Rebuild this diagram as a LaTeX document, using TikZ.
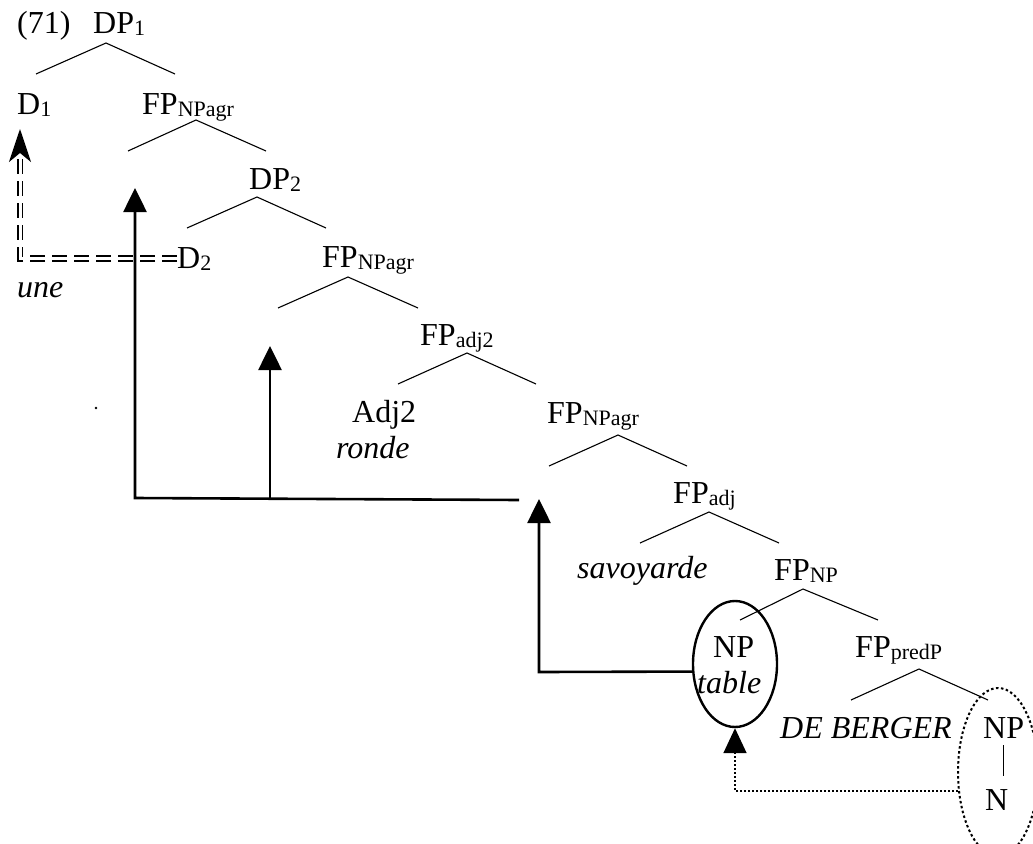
\documentclass[tikz,border=0pt]{standalone}
\usepackage{fontspec}
\setmainfont{Liberation Serif}
\usetikzlibrary{arrows.meta,shapes.geometric}
\newcommand\sbs[1]{\raisebox{-2pt}{\fontsize{22}{22}\selectfont #1}}

\begin{document}
\begin{tikzpicture}[
  x=1pt, y=-1pt,
  lab/.style={
    anchor=base west,
    inner sep=0pt,
    font=\fontsize{32}{38}\selectfont
  },
  ital/.style={lab, font=\fontsize{32}{38}\selectfont\itshape},
  branch/.style={line width=1.1pt},
  mv/.style={line width=2.6pt, -{Triangle[length=24pt,width=23pt]}},
  dbl/.style={
    double, double distance=3pt, line width=1.7pt,
    dash pattern=on 15pt off 7pt,
    -{Stealth[length=33pt,width=22pt,inset=9pt]}
  },
  dots/.style={line width=1.8pt, dash pattern=on 2pt off 2pt,
    -{Triangle[length=25pt,width=23pt]}},
  ring/.style={draw, ellipse, line width=2.4pt, inner sep=0pt},
  dotring/.style={draw, ellipse, line width=2pt, inner sep=0pt,
    dash pattern=on 2.5pt off 2.5pt}
]
\useasboundingbox (0,0) rectangle (1033,843);

% Labels
\node[lab] (ex) at (17,34) {(71)};
\node[lab] (dp1) at (93,34) {DP\sbs{1}};
\node[lab] (d1) at (17,114) {D\sbs{1}};
\node[lab] (fp1) at (142,114) {FP\sbs{NPagr}};
\node[lab] (dp2) at (249,189) {DP\sbs{2}};
\node[lab] (d2) at (177,268) {D\sbs{2}};
\node[ital] (une) at (17,297) {une};
\node[lab] (fp2) at (322,267) {FP\sbs{NPagr}};
\node[lab] (fpadj2) at (420,345) {FP\sbs{adj2}};
\node[lab] (adj2) at (352,422) {Adj2};
\node[ital] (ronde) at (336,458) {ronde};
\node[lab] (fp3) at (547,423) {FP\sbs{NPagr}};
\node[lab] (fpadj) at (673,503) {FP\sbs{adj}};
\node[ital] (savoy) at (577,578) {savoyarde};
\node[lab] (fpnp) at (774,580) {FP\sbs{NP}};
\node[lab] (np1) at (713,657) {NP};
\node[ital] (table) at (697,693) {table};
\node[lab] (fppred) at (855,657) {FP\sbs{predP}};
\node[ital] (berger) at (780,738) {DE BERGER};
\node[lab] (np2) at (983,738) {NP};
\node[lab] (n) at (985,810) {N};

% Rings
\node[ring, minimum width=84pt, minimum height=126pt] (tab) at (735,664) {};
\node[dotring, minimum width=80pt, minimum height=168pt] (nring) at (998,772) {};

% Branches: apex x / apex y / left x / right x
\foreach \ax/\ay/\lx/\rx [count=\i] in {106/43/36/175, 196/120/128/266,
    257/197/187/326, 348/277/278/418, 467/353/398/536, 618/435/549/687,
    709/512/640/779, 803/589/740/878, 919/669/851/988}{
  \coordinate (top\i) at (\ax,\ay);
  \coordinate (lft\i) at (\lx,\ay+31);
  \coordinate (rgt\i) at (\rx,\ay+31);
  \draw[branch] (lft\i) -- (top\i) -- (rgt\i);
}
\draw[branch, shorten <=7pt, shorten >=13pt] (np2.south) -- (np2.south |- n.north);

% Movement
\coordinate (tipA) at (135,188);
\coordinate (tipB) at (270,346);
\coordinate (tipC) at (539,499);
\coordinate (tipD) at (20,129);
\coordinate (mvend) at (519,500);
\coordinate (mvA) at (135,498);
\coordinate (mvB) at (270,499);
\coordinate (mvC) at (539,672);

\draw[mv] (mvend) -- (mvA) -- (tipA);
\draw[mv] (mvB) -- (tipB);
\draw[mv] (tab.190) -- (mvC) -- (tipC);
\draw[dbl] (d2.west) -| (tipD);
\draw[dots] (nring.205) -| (tab.south);

\fill (96,408) circle[radius=1.3pt];

\end{tikzpicture}
\end{document}
